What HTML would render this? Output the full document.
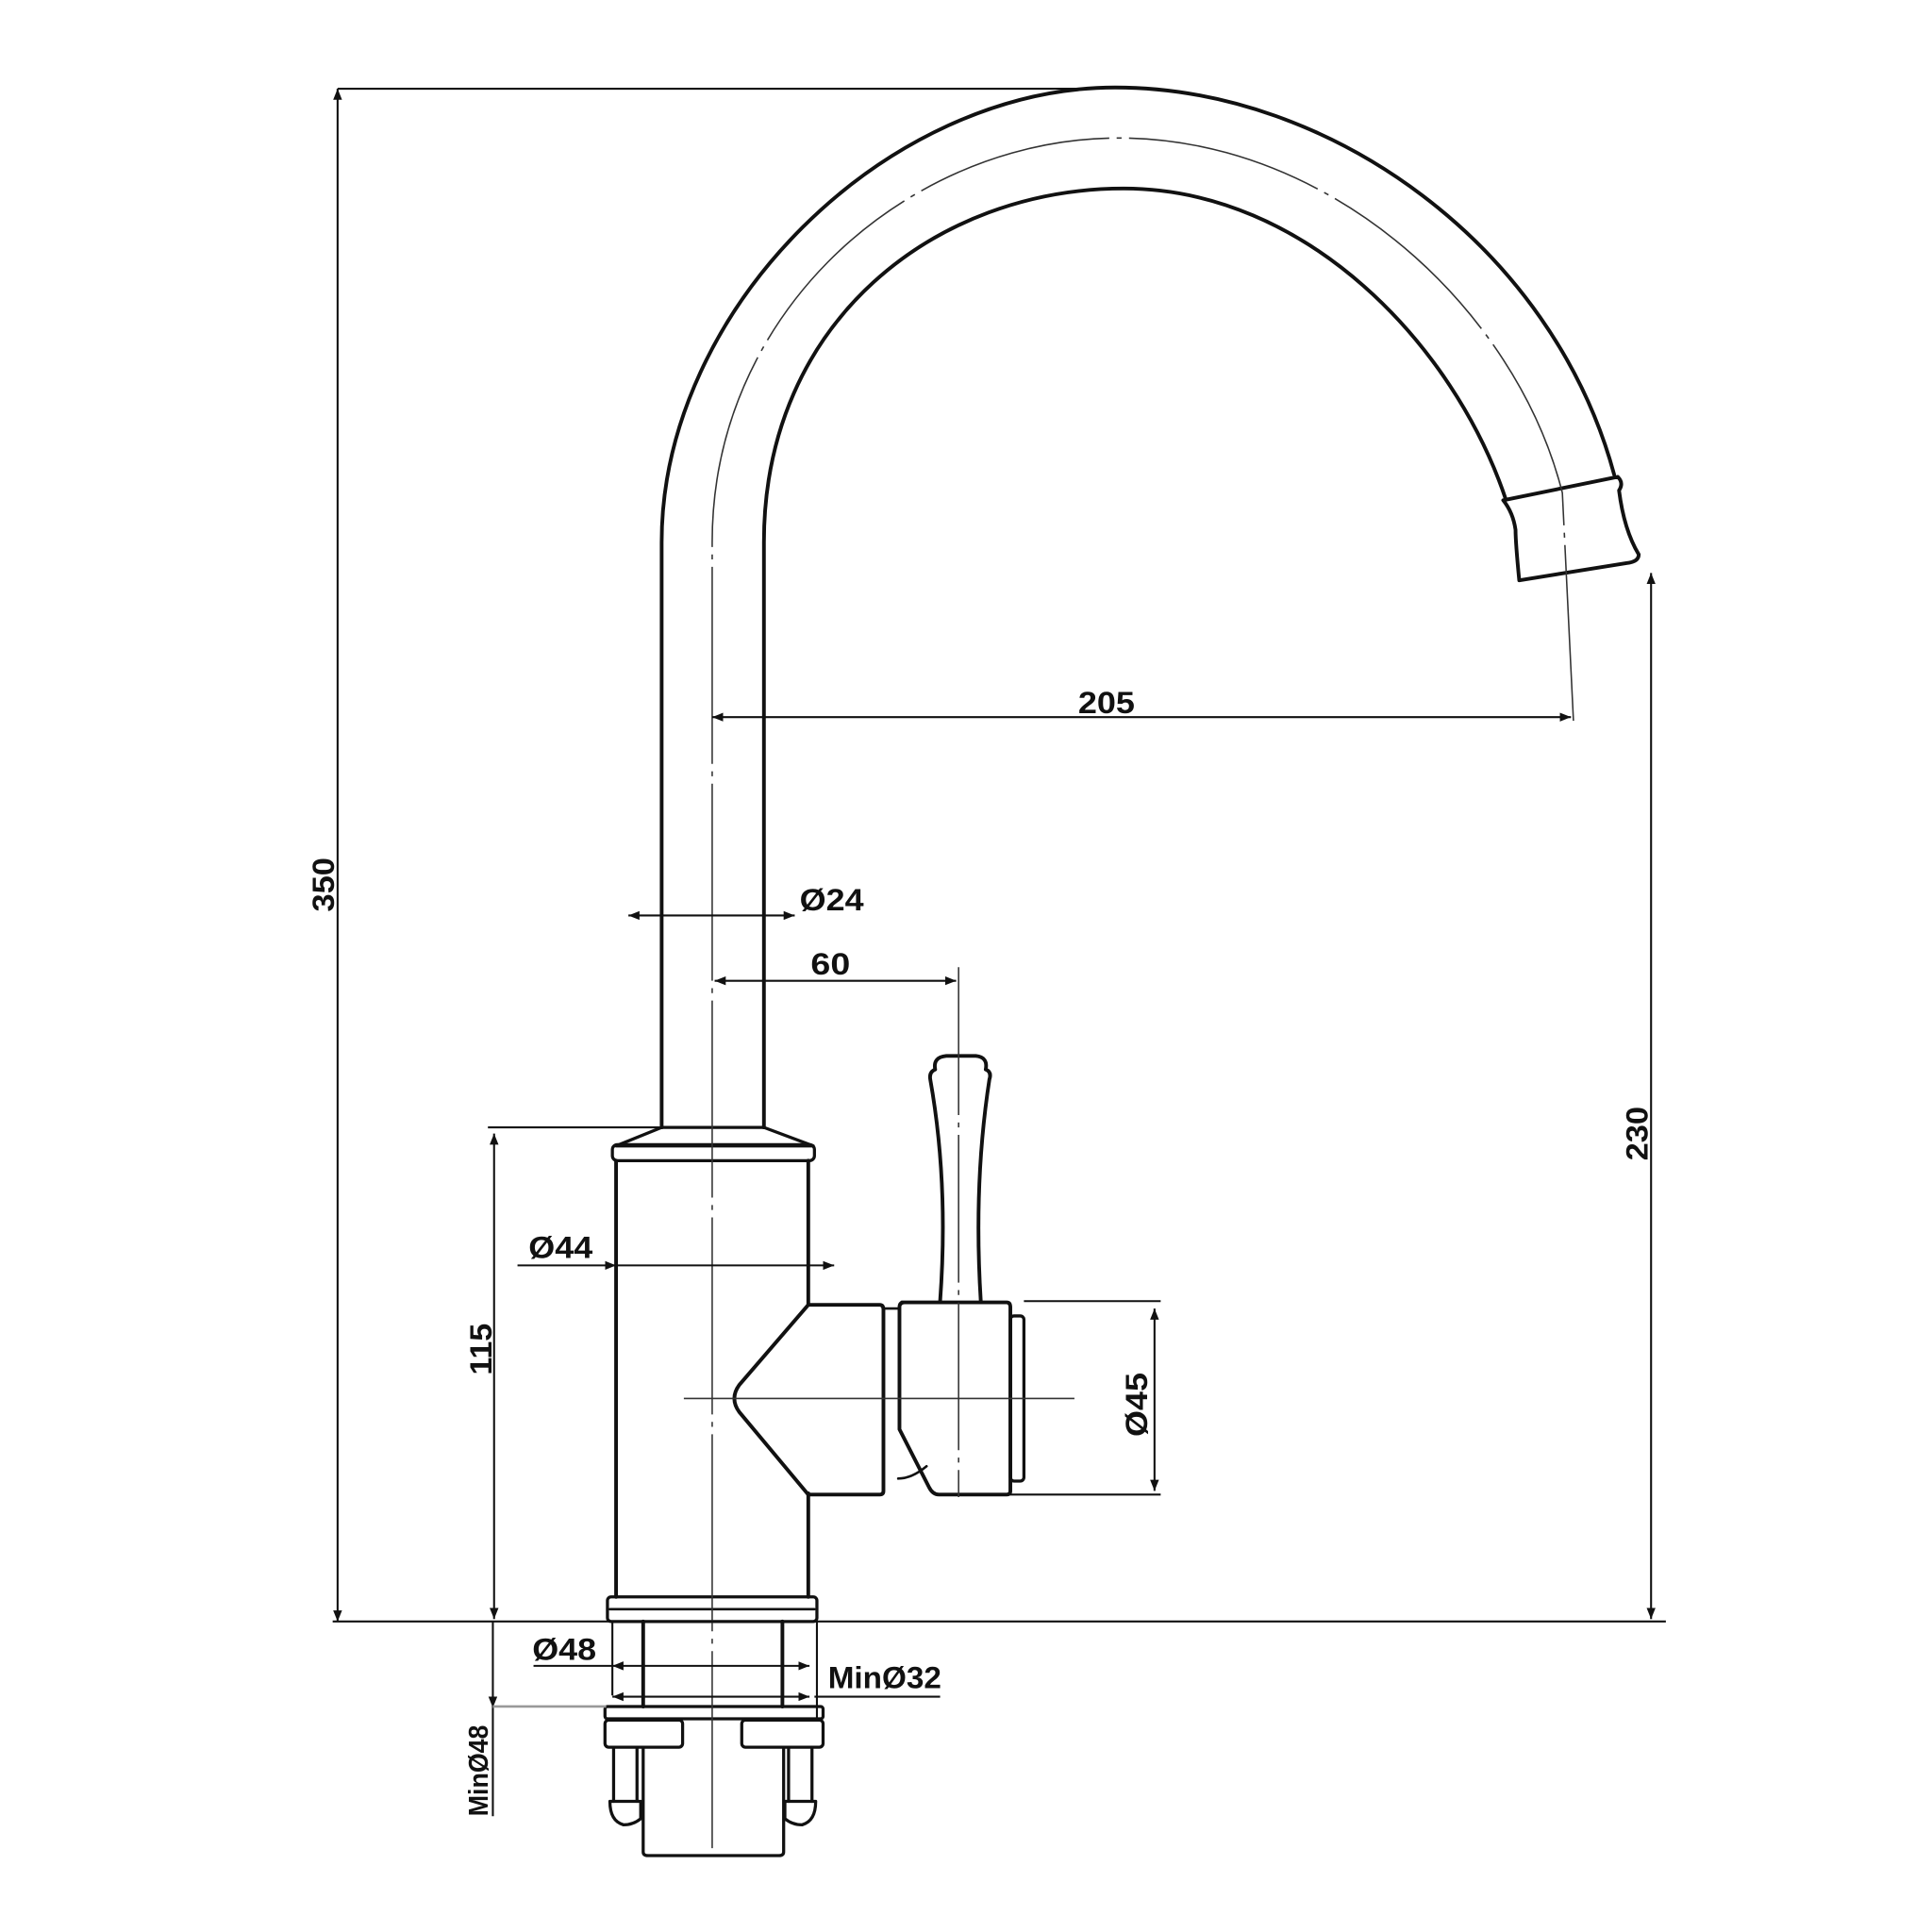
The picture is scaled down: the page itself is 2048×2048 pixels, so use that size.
<!DOCTYPE html>
<html><head><meta charset="utf-8"><style>
html,body{margin:0;padding:0;background:#fff}
svg{display:block}
text{font-family:"Liberation Sans",sans-serif;font-weight:bold;fill:#111}
</style></head><body>
<svg width="2048" height="2048" viewBox="0 0 1568 1568" xmlns="http://www.w3.org/2000/svg">
<defs>
<marker id="a" viewBox="0 0 10 10" refX="10" refY="5" markerWidth="9" markerHeight="9" markerUnits="userSpaceOnUse" orient="auto-start-reverse"><path d="M0,1 L10,5 L0,9 Z" fill="#111"/></marker>
</defs>
<g fill="none" stroke="#111" stroke-linecap="round" stroke-linejoin="round">
<!-- spout -->
<path d="M537,915 L537,440 C537,250 720,71 905,71 C1080,71 1260,200 1310,385" stroke-width="3"/>
<path d="M620,915 L620,440 C620,260 760,153 912,153 C1060,153 1180,280 1222,405" stroke-width="3"/>
<!-- nozzle -->
<path d="M1220,406 L1313,387 Q1318,392 1314,398 Q1318,430 1330,450 Q1330,456 1320,457 L1233,471 Q1230,440 1230,430 Q1228,416 1220,406 Z" stroke-width="3"/>
<!-- body cap -->
<path d="M537,915 L620,915 L660,930 L500,930 Z" stroke-width="2.5"/>
<rect x="497" y="929" width="164" height="13" rx="4" stroke-width="2.5"/>
<line x1="500" y1="942" x2="500" y2="1296" stroke-width="3"/>
<line x1="656" y1="942" x2="656" y2="1059" stroke-width="3"/>
<line x1="656" y1="1212" x2="656" y2="1296" stroke-width="3"/>
<rect x="493" y="1296" width="170" height="20" rx="3" stroke-width="2.5"/>
<line x1="495" y1="1306" x2="661" y2="1306" stroke-width="2"/>
<!-- outlet -->
<path d="M656,1059 L714,1059 Q717,1059 717,1063 L717,1210 Q717,1213 714,1213 L656,1213 L600,1146 Q592,1135 600,1124 Z" stroke-width="3"/>
<path d="M717,1062 L729,1062" stroke-width="2"/>
<path d="M729,1200 Q740,1200 752,1190" stroke-width="2"/>
<!-- handle box -->
<path d="M732,1057 L817,1057 Q820,1057 820,1061 L820,1210 Q820,1213 817,1213 L762,1213 Q757,1213 754,1207 L730,1160 L730,1061 Q730,1057 734,1057 Z" stroke-width="3"/>
<rect x="820" y="1068" width="11" height="134" rx="3" stroke-width="2.5"/>
<!-- lever -->
<path d="M763,1056 Q770,960 755,876 Q754,870 759,868 Q757,858 768,857 L792,857 Q802,858 800,868 Q805,870 803,876 Q790,960 796,1056" stroke-width="3"/>
<!-- below deck -->
<path d="M522,1316 L522,1385 M635,1316 L635,1385" stroke-width="3"/>
<rect x="491" y="1385" width="177" height="10" rx="2" stroke-width="2.5"/>
<rect x="491" y="1396" width="63" height="22" rx="3" stroke-width="2.5"/>
<rect x="602" y="1396" width="66" height="22" rx="3" stroke-width="2.5"/>
<path d="M522,1418 L522,1503 Q522,1506 526,1506 L632,1506 Q636,1506 636,1503 L636,1418" stroke-width="2.5"/>
<path d="M498,1418 L498,1462 M517,1418 L517,1462 M640,1418 L640,1462 M659,1418 L659,1462" stroke-width="2.5"/>
<path d="M495,1462 L520,1462 L520,1476 Q514,1481 506,1481 Q495,1478 495,1462 Z" stroke-width="2.5"/>
<path d="M637,1462 L662,1462 Q662,1478 651,1481 Q643,1481 637,1476 Z" stroke-width="2.5"/>
</g>
<g fill="none" stroke="#333">
<!-- centerlines -->
<path d="M578,1500 L578,440 C578,250 740,112 908,112 C1080,112 1230,250 1268,400 L1277,585" stroke-width="1.2" stroke-dasharray="160,6,4,6"/>
<line x1="555" y1="1135" x2="872" y2="1135" stroke-width="1.2"/>
<line x1="778" y1="785" x2="778" y2="1215" stroke-width="1.2" stroke-dasharray="120,6,4,6"/>
</g>
<g stroke="#111" stroke-width="1.6" fill="none">
<!-- 350 -->
<line x1="274" y1="72" x2="880" y2="72"/>
<line x1="274" y1="72" x2="274" y2="1316" marker-start="url(#a)" marker-end="url(#a)"/>
<line x1="270" y1="1316" x2="1352" y2="1316"/>
<!-- 205 -->
<line x1="578" y1="582" x2="1275" y2="582" marker-start="url(#a)" marker-end="url(#a)"/>
<!-- 230 -->
<line x1="1340" y1="465" x2="1340" y2="1314" marker-start="url(#a)" marker-end="url(#a)"/>
<!-- Ø24 -->
<line x1="510" y1="743" x2="645" y2="743" marker-start="url(#a)" marker-end="url(#a)"/>
<!-- 60 -->
<line x1="580" y1="796" x2="776" y2="796" marker-start="url(#a)" marker-end="url(#a)"/>
<!-- Ø44 -->
<line x1="420" y1="1027" x2="500" y2="1027" marker-end="url(#a)"/>
<line x1="500" y1="1027" x2="677" y2="1027" marker-end="url(#a)"/>
<!-- 115 -->
<line x1="396" y1="915" x2="537" y2="915"/>
<line x1="401" y1="920" x2="401" y2="1314" marker-start="url(#a)" marker-end="url(#a)"/>
<!-- Ø45 -->
<line x1="831" y1="1056" x2="942" y2="1056"/>
<line x1="820" y1="1213" x2="942" y2="1213"/>
<line x1="937" y1="1062" x2="937" y2="1210" marker-start="url(#a)" marker-end="url(#a)"/>
<!-- Ø48 / MinØ32 -->
<line x1="497" y1="1316" x2="497" y2="1376"/>
<line x1="663" y1="1316" x2="663" y2="1395"/>
<line x1="433" y1="1352" x2="497" y2="1352"/>
<line x1="497" y1="1352" x2="657" y2="1352" marker-start="url(#a)" marker-end="url(#a)"/>
<line x1="497" y1="1377" x2="657" y2="1377" marker-start="url(#a)" marker-end="url(#a)"/>
<line x1="661" y1="1377" x2="763" y2="1377"/>
<!-- MinØ48 -->
<line x1="400" y1="1316" x2="400" y2="1386" marker-end="url(#a)"/>
<line x1="400" y1="1386" x2="400" y2="1474"/>
<line x1="400" y1="1385" x2="492" y2="1385" stroke="#999" stroke-width="2"/>
</g>
<g font-size="25">
<text x="262" y="718" text-anchor="middle" transform="rotate(-90 262 718)" dy="9" textLength="44" lengthAdjust="spacingAndGlyphs">350</text>
<text x="898" y="579" text-anchor="middle" textLength="46" lengthAdjust="spacingAndGlyphs">205</text>
<text x="1328" y="920" text-anchor="middle" transform="rotate(-90 1328 920)" dy="9" textLength="44" lengthAdjust="spacingAndGlyphs">230</text>
<text x="675" y="739" text-anchor="middle" textLength="52" lengthAdjust="spacingAndGlyphs">Ø24</text>
<text x="674" y="791" text-anchor="middle" textLength="32" lengthAdjust="spacingAndGlyphs">60</text>
<text x="455" y="1021" text-anchor="middle" textLength="52" lengthAdjust="spacingAndGlyphs">Ø44</text>
<text x="390" y="1095" text-anchor="middle" transform="rotate(-90 390 1095)" dy="9" textLength="42" lengthAdjust="spacingAndGlyphs">115</text>
<text x="922" y="1140" text-anchor="middle" transform="rotate(-90 922 1140)" dy="9" textLength="52" lengthAdjust="spacingAndGlyphs">Ø45</text>
<text x="458" y="1347" text-anchor="middle" textLength="52" lengthAdjust="spacingAndGlyphs">Ø48</text>
<text x="718" y="1370" text-anchor="middle" textLength="92" lengthAdjust="spacingAndGlyphs">MinØ32</text>
<text x="388" y="1437" text-anchor="middle" transform="rotate(-90 388 1437)" dy="8" font-size="22" textLength="74" lengthAdjust="spacingAndGlyphs">MinØ48</text>
</g>
</svg>
</body></html>
